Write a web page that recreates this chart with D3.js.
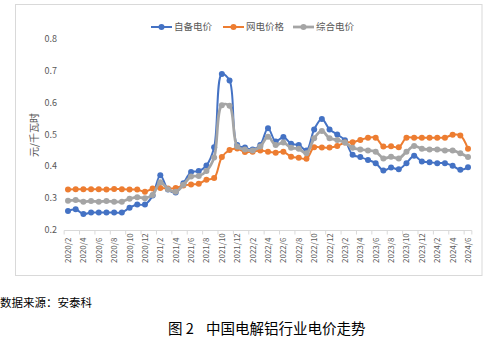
<!DOCTYPE html>
<html><head><meta charset="utf-8">
<script src="https://cdn.jsdelivr.net/npm/d3@7"></script>
<style>body{margin:0;background:#fff}svg{display:block}</style>
</head><body>
<script>
const months = ["2020/2","2020/3","2020/4","2020/5","2020/6","2020/7","2020/8","2020/9","2020/10","2020/11","2020/12",
"2021/1","2021/2","2021/3","2021/4","2021/5","2021/6","2021/7","2021/8","2021/9","2021/10","2021/11","2021/12",
"2022/1","2022/2","2022/3","2022/4","2022/5","2022/6","2022/7","2022/8","2022/9","2022/10","2022/11","2022/12",
"2023/1","2023/2","2023/3","2023/4","2023/5","2023/6","2023/7","2023/8","2023/9","2023/10","2023/11","2023/12",
"2024/1","2024/2","2024/3","2024/4","2024/5","2024/6"];
const selfPrice = [0.260,0.265,0.250,0.255,0.255,0.255,0.255,0.255,0.270,0.280,0.280,
0.308,0.372,0.327,0.318,0.347,0.382,0.385,0.403,0.460,0.690,0.670,0.467,
0.459,0.453,0.467,0.520,0.478,0.492,0.471,0.467,0.450,0.516,0.549,0.516,
0.500,0.482,0.436,0.429,0.420,0.410,0.387,0.396,0.391,0.410,0.433,0.415,
0.413,0.410,0.410,0.402,0.389,0.397];
const gridPrice = [0.327,0.328,0.328,0.328,0.328,0.327,0.329,0.328,0.327,0.327,0.320,
0.330,0.332,0.330,0.332,0.340,0.343,0.345,0.358,0.363,0.429,0.451,0.456,
0.445,0.446,0.450,0.446,0.443,0.446,0.430,0.427,0.424,0.460,0.459,0.459,
0.464,0.475,0.476,0.483,0.490,0.490,0.462,0.463,0.460,0.490,0.490,0.490,
0.490,0.490,0.490,0.499,0.497,0.455];
const mixPrice = [0.292,0.294,0.289,0.291,0.289,0.291,0.289,0.289,0.298,0.303,0.300,
0.310,0.350,0.328,0.320,0.342,0.368,0.370,0.385,0.428,0.592,0.590,0.462,
0.453,0.450,0.462,0.493,0.467,0.475,0.458,0.455,0.441,0.488,0.511,0.488,
0.483,0.475,0.458,0.453,0.450,0.446,0.425,0.430,0.425,0.446,0.464,0.455,
0.453,0.453,0.450,0.450,0.441,0.429];
const seriesNames = ["自备电价","网电价格","综合电价"];
const seriesColors = ["#4472C4","#ED7D31","#A5A5A5"];
const yTicks = [0.2,0.3,0.4,0.5,0.6,0.7,0.8];

const W=487,H=338;
const svg = d3.select("body").append("svg").attr("width",W).attr("height",H);
const font = "'Noto Sans CJK SC','Noto Sans',sans-serif";

svg.append("rect").attr("x",15.5).attr("y",4.5).attr("width",466.5).attr("height",271)
  .attr("fill","#fff").attr("stroke","#d9d9d9").attr("stroke-width",1);

const x = d3.scalePoint().domain(months).range([68,468]);
const y = d3.scaleLinear().domain([0.2,0.8]).range([230,39]);
const step = x.step();

// y axis labels
svg.append("g").selectAll("text").data(yTicks).join("text")
  .attr("x",57).attr("y",d=>y(d)).attr("dy","0.35em").attr("text-anchor","end")
  .attr("font-family",font).attr("font-size",9).attr("fill","#595959")
  .text(d=>d3.format(".1f")(d));

// x axis line
svg.append("line").attr("x1",x(months[0])-step/2).attr("x2",x(months[months.length-1])+step/2)
  .attr("y1",230.5).attr("y2",230.5).attr("stroke","#d9d9d9").attr("stroke-width",1);
const tickIdx = months.map((m,i)=>i).filter(i=>i%2===0);
svg.append("g").selectAll("line").data(tickIdx.concat([months.length])).join("line")
  .attr("x1",i=>x(months[0])-step/2+i*step).attr("x2",i=>x(months[0])-step/2+i*step)
  .attr("y1",230.5).attr("y2",234.5).attr("stroke","#d9d9d9");
svg.append("g").selectAll("text").data(tickIdx).join("text")
  .attr("transform",i=>`translate(${x(months[i])+3},263) rotate(-90)`)
  .attr("text-anchor","start")
  .attr("font-family",font).attr("font-size",8).attr("fill","#595959")
  .text(i=>months[i]);

// y title
svg.append("text").attr("transform","translate(38,135) rotate(-90)")
  .attr("text-anchor","middle").attr("font-family",font).attr("font-size",10).attr("fill","#595959")
  .text("元/千瓦时");

const data = [selfPrice,gridPrice,mixPrice];
const widths = [2,2,2.75];
const line = d3.line().x((d,i)=>x(months[i])).y(d=>y(d)).curve(d3.curveCatmullRom.alpha(0.5));
data.forEach((s,k)=>{
  const g = svg.append("g");
  g.append("path").attr("d",line(s)).attr("fill","none").attr("stroke",seriesColors[k])
    .attr("stroke-width",widths[k]).attr("stroke-linejoin","round");
  g.selectAll("circle").data(s).join("circle")
    .attr("cx",(d,i)=>x(months[i])).attr("cy",d=>y(d)).attr("r",3)
    .attr("fill",seriesColors[k]);
});

// legend
const legX = [151,223,293];
seriesNames.forEach((n,k)=>{
  const g = svg.append("g").attr("transform",`translate(${legX[k]},27)`);
  g.append("line").attr("x1",0).attr("x2",21).attr("stroke",seriesColors[k]).attr("stroke-width",widths[k]);
  g.append("circle").attr("cx",10.5).attr("r",3).attr("fill",seriesColors[k]);
  g.append("text").attr("x",23).attr("dy","0.35em").attr("font-family",font).attr("font-size",9.5)
    .attr("fill","#595959").text(n);
});

// source and caption
svg.append("text").attr("x",0).attr("y",307).attr("font-family",font).attr("font-size",11.5)
  .attr("fill","#000").text("数据来源：安泰科");
const cap = svg.append("text").attr("y",334).attr("font-family",font).attr("font-size",14.5).attr("fill","#000");
cap.append("tspan").attr("x",168).text("图 2");
cap.append("tspan").attr("x",206).text("中国电解铝行业电价走势");
</script>
</body></html>
